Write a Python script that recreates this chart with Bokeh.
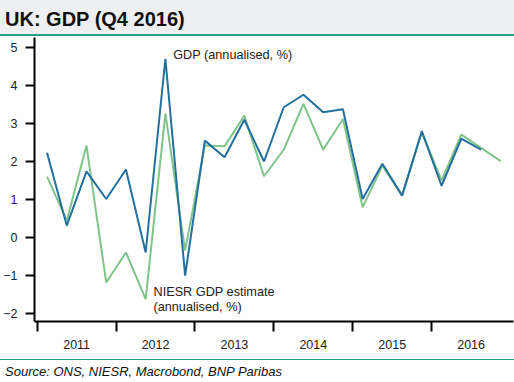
from bokeh.plotting import figure
from bokeh.layouts import column
from bokeh.models import Range1d, FixedTicker, CustomJSTickFormatter, Div
from bokeh.core.properties import value
from bokeh.embed import file_html
from bokeh.resources import INLINE

# ---- data ----
quarters = ["2011Q1", "2011Q2", "2011Q3", "2011Q4",
            "2012Q1", "2012Q2", "2012Q3", "2012Q4",
            "2013Q1", "2013Q2", "2013Q3", "2013Q4",
            "2014Q1", "2014Q2", "2014Q3", "2014Q4",
            "2015Q1", "2015Q2", "2015Q3", "2015Q4",
            "2016Q1", "2016Q2", "2016Q3", "2016Q4"]
gdp = [2.23, 0.31, 1.74, 1.01, 1.79, -0.40, 4.71, -1.01,
       2.55, 2.11, 3.10, 2.00, 3.43, 3.76, 3.30, 3.38,
       1.01, 1.94, 1.10, 2.80, 1.36, 2.60, 2.31]
niesr = [1.60, 0.44, 2.42, -1.19, -0.40, -1.63, 3.27, -0.35,
         2.42, 2.40, 3.21, 1.61, 2.31, 3.52, 2.31, 3.12,
         0.79, 1.89, 1.10, 2.77, 1.50, 2.71, 2.36, 2.01]
y_ticks = [-2, -1, 0, 1, 2, 3, 4, 5]
year_starts = [2011, 2012, 2013, 2014, 2015, 2016]

title_text = "UK: GDP (Q4 2016)"
source_text = "Source: ONS, NIESR, Macrobond, BNP Paribas"
gdp_label = "GDP (annualised, %)"
niesr_label = ["NIESR GDP estimate", "(annualised, %)"]


def q_to_x(q):
    return int(q[:4]) + (int(q[5]) - 0.5) / 4.0


xq = [q_to_x(q) for q in quarters]

FONT = value("Liberation Sans")
BLUE = "#236f9e"
GREEN = "#7fc489"
TEAL = "#22a386"
GRAY = "#eeeff1"
W = 514

# ---- header ----
hdr = Div(text=title_text, width=W, height=36, margin=0,
          styles={"background-color": GRAY, "box-sizing": "border-box",
                  "border-bottom": "2px solid " + TEAL,
                  "font-family": "'Liberation Sans', Arial, sans-serif",
                  "font-size": "20px", "font-weight": "bold", "color": "#111111",
                  "line-height": "23px", "padding-top": "8px",
                  "padding-left": "5px", "overflow": "hidden",
                  "white-space": "nowrap"})

# ---- main chart ----
p = figure(width=W, height=323, output_backend="svg", toolbar_location=None,
           x_range=Range1d(2010.966, 2017.037), y_range=Range1d(-2.22, 5.27),
           min_border_left=34, min_border_right=1, min_border_top=1,
           min_border_bottom=38, margin=0)
p.outline_line_color = None
p.grid.visible = False
p.background_fill_color = "white"
p.border_fill_color = "white"

p.line(xq, niesr, line_color=GREEN, line_width=2)
p.line(xq[:len(gdp)], gdp, line_color=BLUE, line_width=2)

p.text(x=[2012.724], y=[4.82], text=[gdp_label], text_font=FONT,
       text_font_size="12.7px", text_baseline="middle", text_color="#222222")
p.text(x=[2012.474, 2012.474], y=[-1.445, -1.84], text=niesr_label, text_font=FONT,
       text_font_size="12.7px", text_baseline="middle", text_color="#222222")

# y axis
ya = p.yaxis[0]
ya.ticker = FixedTicker(ticks=y_ticks)
ya.axis_line_width = 2
ya.axis_line_color = "black"
ya.major_tick_out = 9
ya.major_tick_in = 0
ya.major_tick_line_width = 2
ya.minor_tick_line_color = None
ya.major_label_standoff = 8
ya.major_label_text_font = "Liberation Sans"
ya.major_label_text_font_size = "12.5px"
ya.major_label_text_color = "#222222"

# x axis
xa = p.xaxis[0]
xa.ticker = FixedTicker(ticks=[y + 0.5 for y in year_starts], minor_ticks=year_starts)
xa.formatter = CustomJSTickFormatter(code="return Math.floor(tick).toString();")
xa.axis_line_width = 2
xa.axis_line_color = "black"
xa.major_tick_out = 0
xa.major_tick_in = 0
xa.major_tick_line_color = None
xa.minor_tick_out = 10
xa.minor_tick_in = 0
xa.minor_tick_line_width = 2
xa.minor_tick_line_color = "black"
xa.major_label_standoff = 8
xa.major_label_text_font = "Liberation Sans"
xa.major_label_text_font_size = "12.5px"
xa.major_label_text_color = "#222222"

# ---- footer ----
ftr = Div(text=source_text, width=W, height=23, margin=0,
          styles={"box-sizing": "border-box", "border-top": "1.5px solid " + TEAL,
                  "font-family": "'Liberation Sans', Arial, sans-serif",
                  "font-size": "13px", "font-style": "italic", "color": "#111111",
                  "line-height": "15px", "padding-top": "4px",
                  "padding-left": "5px", "overflow": "hidden",
                  "white-space": "nowrap"})

layout = column(hdr, p, ftr, spacing=0)
open("out.html", "w").write(file_html(layout, INLINE))
